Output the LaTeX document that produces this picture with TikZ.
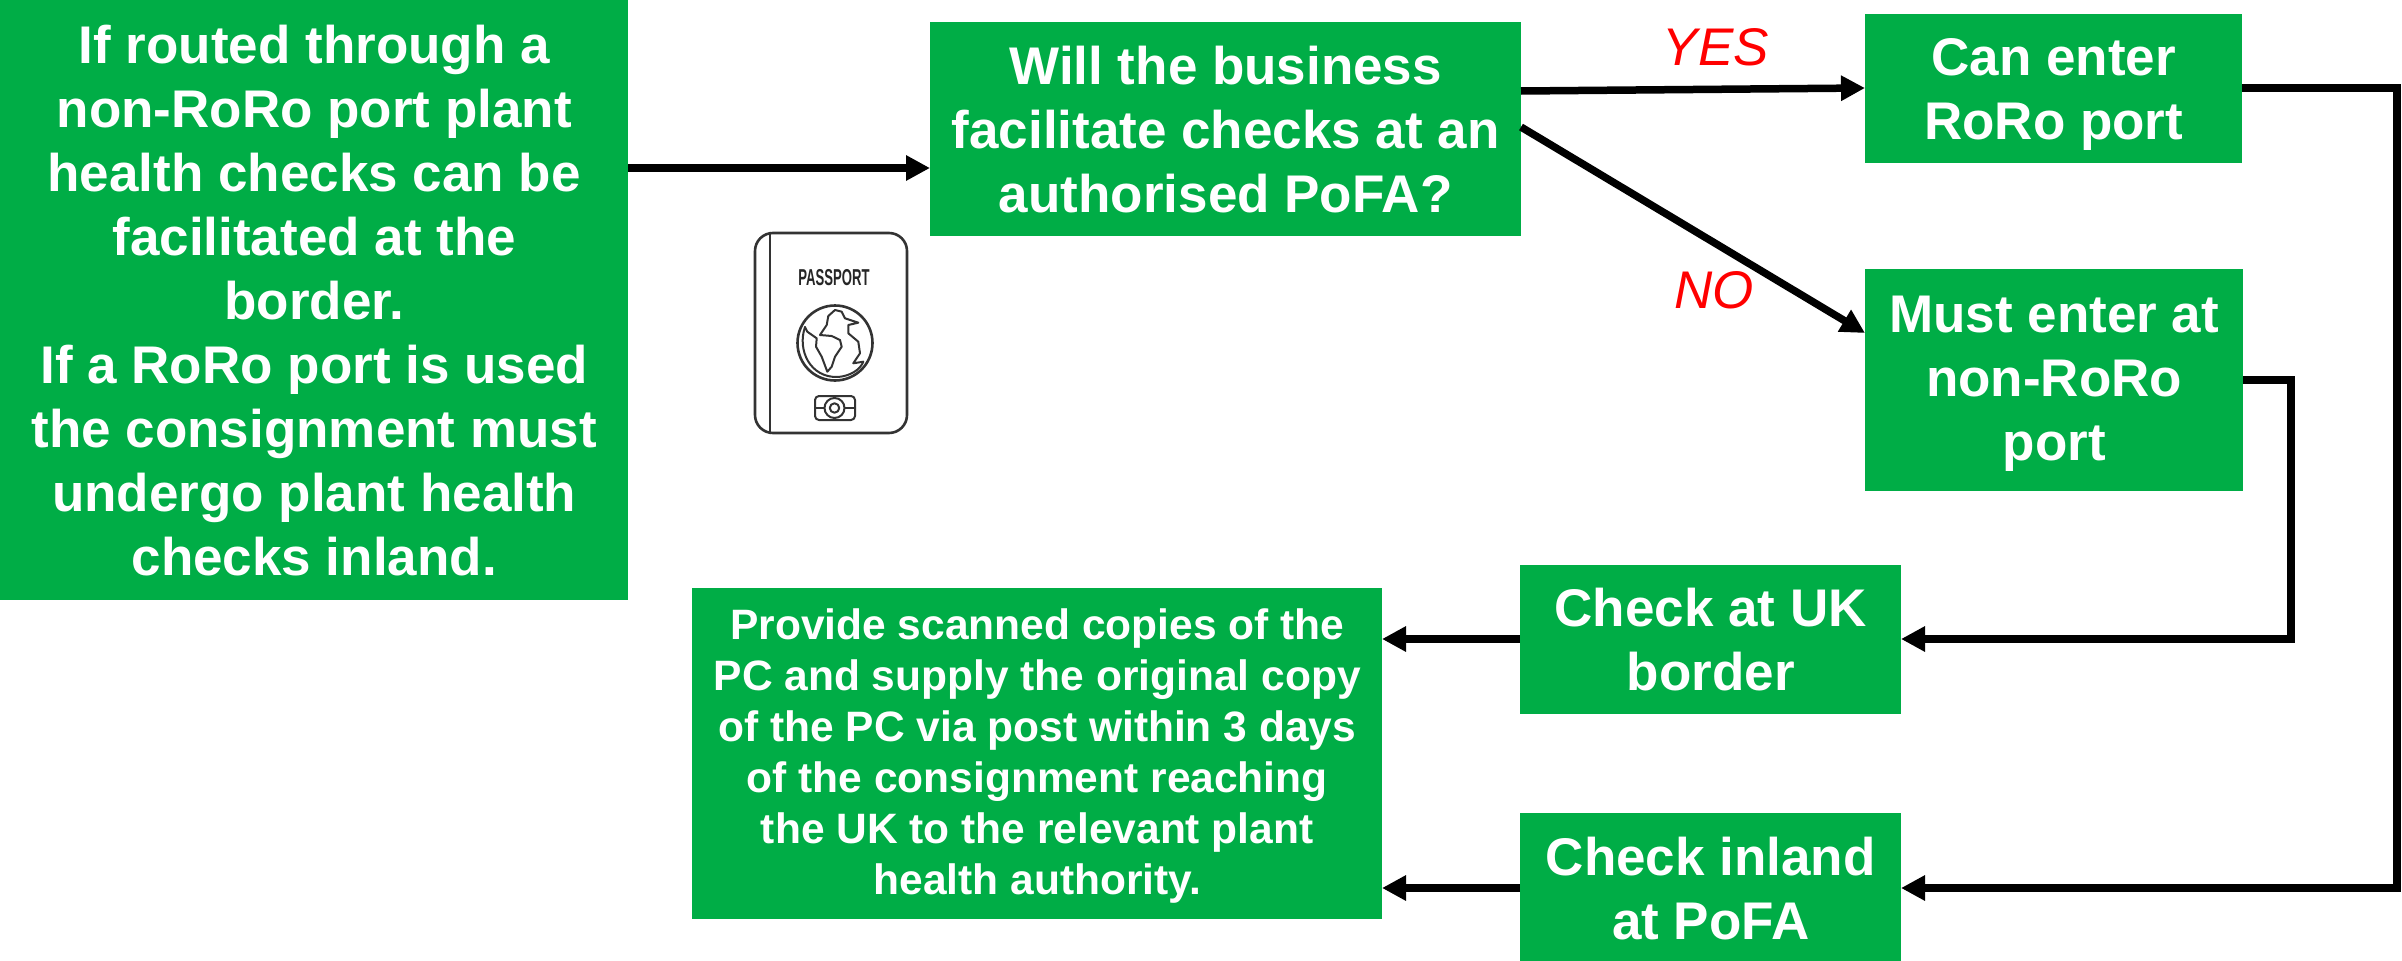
\documentclass[tikz,border=0pt]{standalone}
\usepackage{fontspec}
\setmainfont{Liberation Sans}
\usetikzlibrary{arrows.meta}
\definecolor{boxgreen}{RGB}{0,173,70}
\newcommand{\lowerby}[1]{\rule{0pt}{#1pt}}
\tikzset{
  x=1pt,y=-1pt,
  gbox/.style={fill=boxgreen,draw=none,inner sep=0pt,align=center,text=white,anchor=north west,
     font=\bfseries\fontsize{53}{64}\selectfont},
  smallbox/.style={gbox,font=\bfseries\fontsize{42.5}{51}\selectfont},
  conn/.style={line width=7.5pt,draw=black,-{Triangle[length=24pt,width=24pt]}},
  lbl/.style={text=red,font=\itshape\fontsize{53}{64}\selectfont,inner sep=0pt},
  pp/.style={line width=2.6pt,draw=black!80,line join=round,line cap=round},
  pq/.style={pp,line width=2pt},
}
\begin{document}
\begin{tikzpicture}
\useasboundingbox (0,0) rectangle (2402,961);
\node[gbox,minimum width=628pt,minimum height=600pt] (left) at (0,0)
 {If routed through a\\non-RoRo port plant\\health checks can be\\facilitated at the\\border.\\If a RoRo port is used\\the consignment must\\undergo plant health\\checks inland.};
\node[gbox,minimum width=591pt,minimum height=214pt] (will) at (930,22)
 {Will the business\\facilitate checks at an\\authorised PoFA?};
\node[gbox,minimum width=377pt,minimum height=149pt] (can) at (1865,14)
 {\lowerby{49}Can enter\\RoRo port};
\node[gbox,minimum width=378pt,minimum height=222pt] (must) at (1865,269)
 {\lowerby{43}Must enter at\\non-RoRo\\port};
\node[gbox,minimum width=381pt,minimum height=149pt] (uk) at (1520,565)
 {Check at UK\\border};
\node[gbox,minimum width=381pt,minimum height=148pt] (inland) at (1520,813)
 {\lowerby{42}Check inland\\at PoFA};
\node[smallbox,minimum width=690pt,minimum height=331pt] (prov) at (692,588)
 {\lowerby{35}Provide scanned copies of the\\PC and supply the original copy\\of the PC via post within 3 days\\of the consignment reaching\\the UK to the relevant plant\\health authority.};
\coordinate (leftout) at (628,168);
\coordinate (willin) at (930,168);
\coordinate (yesout) at (1521,91);
\coordinate (canin) at (1865,88);
\coordinate (noout) at (1521,127);
\coordinate (mustin) at (1865,333);
\coordinate (canout) at (2242,88);
\coordinate (mustout) at (2243,380);
\coordinate (ukin) at (1901,639);
\coordinate (inlandin) at (1901,888);
\coordinate (ukout) at (1520,639);
\coordinate (provuk) at (1382,639);
\coordinate (inlandout) at (1520,888);
\coordinate (provin) at (1382,888);
\draw[conn] (leftout) -- (willin);
\draw[conn] (yesout) -- (canin);
\draw[conn] (noout) -- (mustin);
\draw[conn] (canout) -- (2397,88) -- (2397,888) -- (inlandin);
\draw[conn] (mustout) -- (2291,380) -- (2291,639) -- (ukin);
\draw[conn] (ukout) -- (provuk);
\draw[conn] (inlandout) -- (provin);
\node[lbl] (yes) at (1716,47) {YES};
\node[lbl] (no) at (1714,290) {NO};
% passport
\draw[pp] (755,251) arc (180:270:18) -- (889,233) arc (270:360:18) -- (907,415) arc (0:90:18) -- (773,433) arc (90:180:18) -- cycle;
\draw[pp] (770,233) -- (770,433);
\node[inner sep=0pt,font=\bfseries\fontsize{23}{23}\selectfont,text=black!85,xscale=0.57] (pt) at (834,278) {PASSPORT};
\draw[pp] (835,343) circle (37.5);
\draw[pq] (805,327) .. controls (797,350) and (810,378) .. (838,377) .. controls (850,376) and (860,370) .. (863.3,361.7);
\draw[pq] (805,327) -- (807.3,331.7) -- (816.7,338.3) -- (816,346.7) -- (821.7,356.7) -- (827.3,371.7) -- (831.7,366.7) -- (835,356.7) -- (841.7,346.7) -- (840,340) -- (831.7,336) -- (820,335) -- (826.7,325) -- (828.3,316) -- (835,310) -- (841.7,311.7) -- (845,318.3) -- (858.3,322.7) -- (848.3,325) -- (848.3,333.3) -- (858.3,341.7) -- (860,353.3) -- (853.3,363.3) -- (863.3,361.7);
\draw[pq,rounded corners=4pt] (815,396) rectangle (855,420);
\draw[pq] (815,408) -- (824.5,408) (844.5,408) -- (855,408);
\draw[pq,fill=white] (834.5,408) circle (10);
\draw[pq] (834.5,408) circle (4.7);
\end{tikzpicture}
\end{document}
